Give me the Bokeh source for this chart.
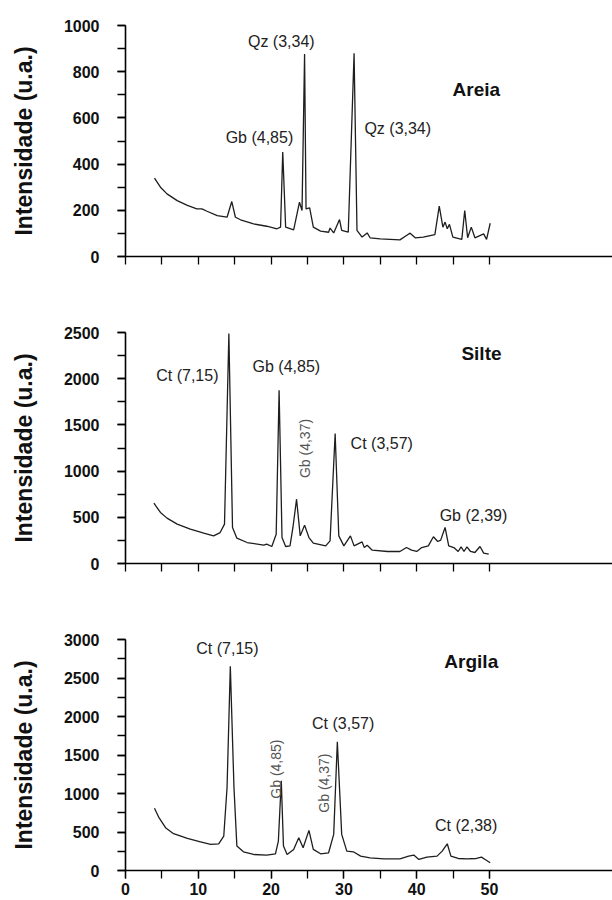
from bokeh.plotting import figure
from bokeh.layouts import column
from bokeh.models import Range1d, FixedTicker
from bokeh.core.properties import value
from bokeh.embed import file_html
from bokeh.resources import INLINE
import math

# ---------------- data (2theta, intensity) ----------------
areia_x = [3.98, 4.8, 5.7, 7.1, 8.5, 9.8, 10.5, 11.2, 12.6, 13.95, 14.6, 15.1, 15.8, 17.6, 19.4,
           20.8, 21.3, 21.6, 22.0, 23.1, 23.9, 24.25, 24.6, 24.8, 25.3, 25.8, 26.8, 27.9, 28.1,
           28.6, 29.4, 29.7, 30.6, 31.4, 31.8, 32.5, 33.2, 33.6, 35.0, 37.7, 38.6, 39.1, 39.8,
           40.9, 42.5, 43.1, 43.6, 43.9, 44.2, 44.5, 44.97, 46.2, 46.6, 47.0, 47.5, 48.0, 49.2,
           49.6, 50.1]
areia_y = [339, 300, 271, 242, 221, 206, 206, 196, 177, 170, 238, 170, 159, 141, 131,
           120, 127, 452, 127, 115, 235, 199, 877, 206, 211, 127, 110, 105, 123,
           102, 160, 113, 105, 880, 113, 84, 102, 81, 76, 72, 91, 101, 81,
           84, 95, 218, 127, 149, 120, 139, 84, 74, 199, 81, 127, 81, 98,
           74, 144]

silte_x = [3.9, 4.8, 5.7, 7.1, 8.9, 10.75, 12.1, 13.0, 13.6, 14.2, 14.7, 15.3, 16.7, 19.0, 19.4,
           20.1, 20.7, 21.1, 21.5, 22.0, 22.6, 23.0, 23.5, 24.0, 24.6, 25.2, 25.8, 27.5, 28.1,
           28.8, 29.3, 30.0, 30.9, 31.4, 32.5, 32.8, 33.2, 33.9, 36.0, 37.7, 38.6, 39.3, 40.0,
           40.7, 41.6, 42.3, 42.9, 43.3, 43.9, 44.4, 45.1, 45.7, 46.1, 46.5, 46.9, 47.4, 48.0,
           48.7, 49.2, 49.9]
silte_y = [653, 552, 491, 426, 372, 328, 299, 335, 426, 2489, 390, 274, 227, 198, 209,
           184, 317, 1876, 281, 184, 191, 390, 696, 299, 415, 281, 220, 191, 245,
           1407, 299, 191, 299, 191, 234, 173, 198, 144, 130, 130, 173, 144, 130,
           173, 191, 289, 238, 253, 390, 191, 173, 130, 180, 130, 180, 130, 119,
           184, 112, 101]

argila_x = [3.98, 4.6, 5.5, 6.6, 8.5, 10.3, 11.7, 12.8, 13.5, 13.95, 14.4, 14.9, 15.3, 16.2, 17.6,
            19.4, 20.6, 21.0, 21.4, 21.7, 22.2, 23.1, 23.8, 24.4, 25.2, 25.8, 26.8, 27.9, 28.6,
            29.1, 29.7, 30.4, 31.3, 32.3, 33.6, 35.5, 37.7, 38.9, 39.6, 40.3, 41.4, 42.8, 43.5,
            44.2, 44.7, 45.7, 46.9, 48.2, 48.9, 49.4, 50.1]
argila_y = [808, 686, 556, 478, 417, 373, 339, 347, 447, 1077, 2653, 1077, 317, 243, 208,
            200, 217, 382, 1164, 317, 208, 274, 426, 295, 521, 274, 217, 230, 469,
            1672, 469, 252, 243, 187, 165, 152, 152, 187, 200, 143, 174, 187, 252,
            347, 187, 156, 152, 156, 174, 143, 100]

# axis ticks
x_labelled_ticks = [0, 10, 20, 30, 40, 50]
x_all_ticks = [0, 5, 10, 15, 20, 25, 30, 35, 40, 45, 50]
areia_yticks = [0, 200, 400, 600, 800, 1000]
areia_yminor = [0, 100, 200, 300, 400, 500, 600, 700, 800, 900, 1000]
silte_yticks = [0, 500, 1000, 1500, 2000, 2500]
silte_yminor = [0, 250, 500, 750, 1000, 1250, 1500, 1750, 2000, 2250, 2500]
argila_yticks = [0, 500, 1000, 1500, 2000, 2500, 3000]
argila_yminor = [0, 250, 500, 750, 1000, 1250, 1500, 1750, 2000, 2250, 2500, 2750, 3000]

# peak annotations
areia_lbl = ["Qz (3,34)", "Gb (4,85)", "Qz (3,34)"]
areia_lbl_x = [21.4, 18.4, 37.4]
areia_lbl_y = [931, 515, 554]
areia_vlbl = []
areia_vlbl_x = []
areia_vlbl_y = []

silte_lbl = ["Ct (7,15)", "Gb (4,85)", "Ct (3,57)", "Gb (2,39)"]
silte_lbl_x = [8.5, 22.1, 35.2, 47.8]
silte_lbl_y = [2039, 2129, 1303, 524]
silte_vlbl = ["Gb (4,37)"]
silte_vlbl_x = [24.7]
silte_vlbl_y = [1245]

argila_lbl = ["Ct (7,15)", "Ct (3,57)", "Ct (2,38)"]
argila_lbl_x = [14.0, 29.9, 46.8]
argila_lbl_y = [2883, 1912, 578]
argila_vlbl = ["Gb (4,85)", "Gb (4,37)"]
argila_vlbl_x = [20.7, 27.2]
argila_vlbl_y = [1317, 1135]

names = ["Areia", "Silte", "Argila"]
names_x = [48.2, 48.9, 47.5]
names_y = [723, 2273, 2717]

FONT = "Liberation Sans"


def panel(xs, ys, ymax, yticks, yminor, lbl, lx, ly, vlbl, vx, vy, name, nx, ny,
          height, bottom, show_x):
    p = figure(width=612, height=height, output_backend="svg", toolbar_location=None,
               x_range=Range1d(0, 66.9), y_range=Range1d(0, ymax))
    p.min_border_left = 125
    p.min_border_right = 0
    p.min_border_top = 25
    p.min_border_bottom = bottom
    p.outline_line_color = None
    p.xgrid.visible = False
    p.ygrid.visible = False
    p.background_fill_color = "white"
    p.border_fill_color = "white"

    p.line(xs, ys, line_color="#1e1e1e", line_width=1.3)

    p.text(x=lx, y=ly, text=lbl, text_font=value(FONT), text_font_size="16px",
           text_align="center", text_baseline="middle", text_color="#222222")
    if vlbl:
        p.text(x=vx, y=vy, text=vlbl, text_font=value(FONT), text_font_size="14px",
               text_align="center", text_baseline="middle", text_color="#555555",
               angle=math.pi / 2)
    p.text(x=[nx], y=[ny], text=[name], text_font=value(FONT), text_font_size="19px",
           text_font_style="bold", text_align="center", text_baseline="middle",
           text_color="#111111")

    # y axis
    ya = p.yaxis[0]
    ya.ticker = FixedTicker(ticks=yticks, minor_ticks=yminor)
    ya.axis_label = "Intensidade (u.a.)"
    ya.axis_label_text_font = FONT
    ya.axis_label_text_font_size = "23px"
    ya.axis_label_text_font_style = "bold"
    ya.axis_label_text_color = "#111111"
    ya.axis_label_standoff = 24
    ya.major_label_text_font = FONT
    ya.major_label_text_font_size = "16px"
    ya.major_label_text_font_style = "bold"
    ya.major_label_text_color = "#111111"
    ya.major_label_standoff = 18

    # x axis
    xa = p.xaxis[0]
    if show_x:
        xa.ticker = FixedTicker(ticks=x_labelled_ticks, minor_ticks=x_all_ticks)
    else:
        xa.ticker = FixedTicker(ticks=[], minor_ticks=x_all_ticks)
    xa.major_label_text_font = FONT
    xa.major_label_text_font_size = "16px"
    xa.major_label_text_font_style = "bold"
    xa.major_label_text_color = "#111111"
    xa.major_label_standoff = 4

    for ax in (xa, ya):
        ax.axis_line_color = "black"
        ax.axis_line_width = 1.6
        ax.major_tick_line_color = "black"
        ax.minor_tick_line_color = "black"
        ax.major_tick_line_width = 1.3
        ax.minor_tick_line_width = 1.3
        ax.major_tick_in = 0
        ax.major_tick_out = 8
        ax.minor_tick_in = 0
        ax.minor_tick_out = 8
    return p


p1 = panel(areia_x, areia_y, 1000, areia_yticks, areia_yminor,
           areia_lbl, areia_lbl_x, areia_lbl_y, areia_vlbl, areia_vlbl_x, areia_vlbl_y,
           names[0], names_x[0], names_y[0], 307, 51, False)
p2 = panel(silte_x, silte_y, 2500, silte_yticks, silte_yminor,
           silte_lbl, silte_lbl_x, silte_lbl_y, silte_vlbl, silte_vlbl_x, silte_vlbl_y,
           names[1], names_x[1], names_y[1], 307, 51, False)
p3 = panel(argila_x, argila_y, 3000, argila_yticks, argila_yminor,
           argila_lbl, argila_lbl_x, argila_lbl_y, argila_vlbl, argila_vlbl_x, argila_vlbl_y,
           names[2], names_x[2], names_y[2], 286, 30, True)

layout = column(p1, p2, p3)
open("out.html", "w").write(file_html(layout, INLINE))
